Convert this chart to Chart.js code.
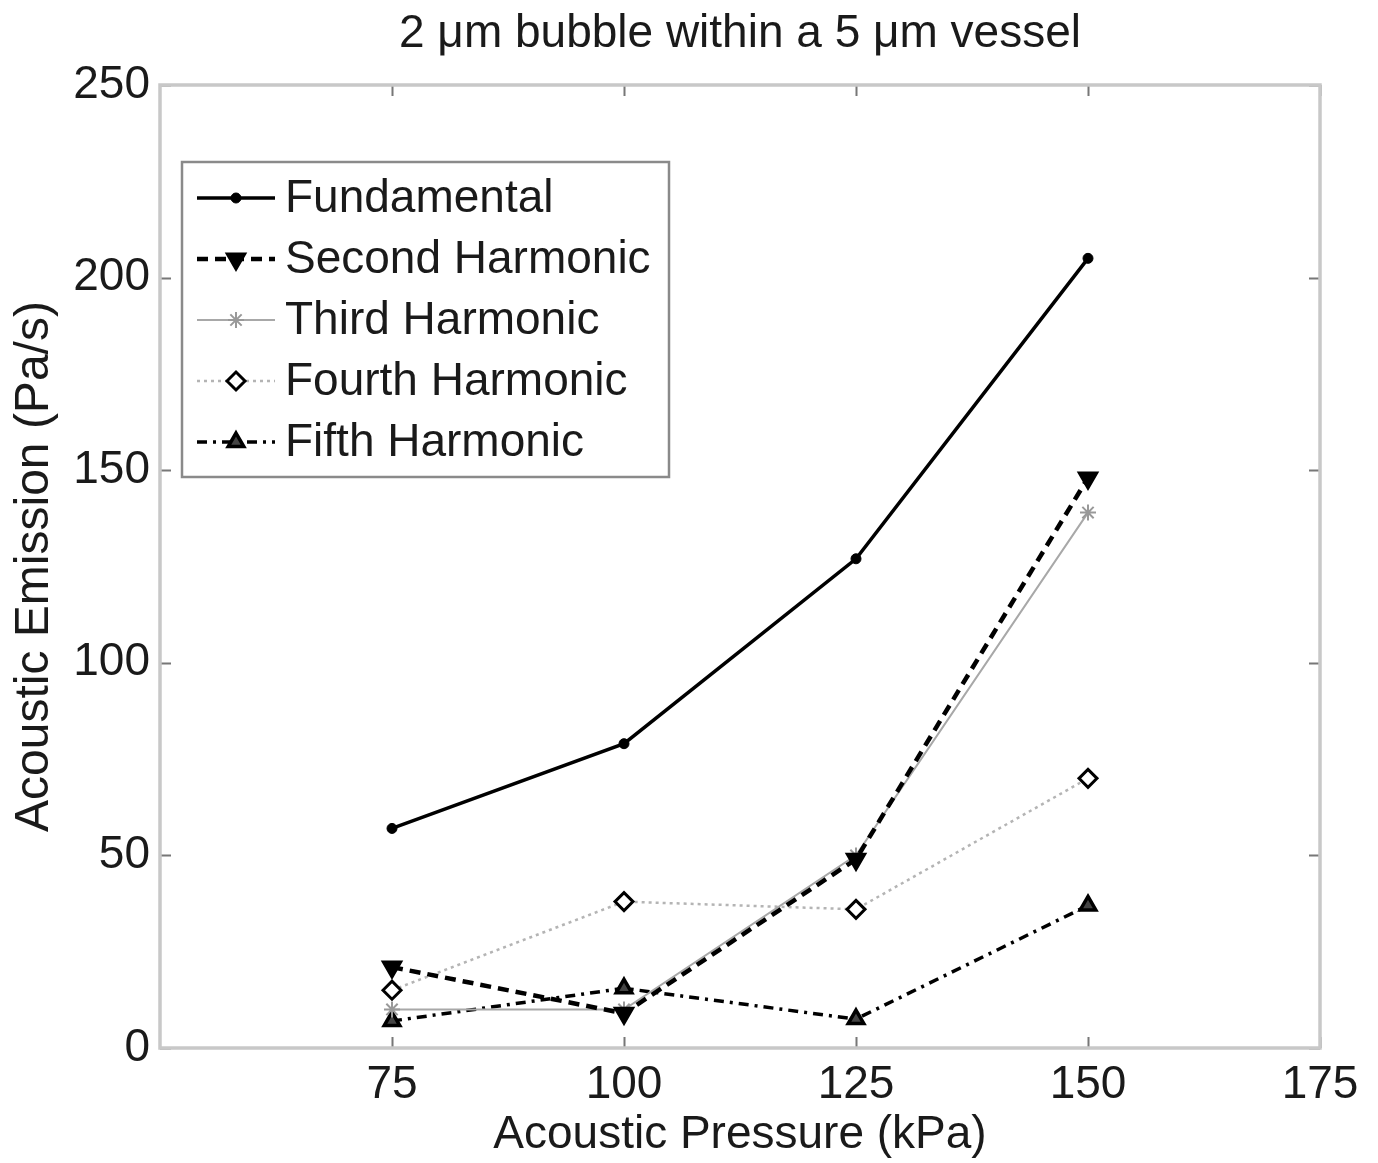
<!DOCTYPE html>
<html><head><meta charset="utf-8">
<script src="https://cdn.jsdelivr.net/npm/chart.js@4.4.1/dist/chart.umd.min.js"></script>
<style>html,body{margin:0;padding:0;background:#fff}#wrap{width:1378px;height:1163px}</style>
</head><body><div id="wrap"><canvas id="c" width="1378" height="1163"></canvas></div>
<script>
const pressures = [75, 100, 125, 150];
const fundamental = [57, 79, 127, 205];
const secondHarmonic = [21, 9, 49, 148];
const thirdHarmonic = [10, 10, 50, 139];
const fourthHarmonic = [15, 38, 36, 70];
const fifthHarmonic = [7, 15.5, 7.5, 37];
const xTicks = [75, 100, 125, 150, 175];
const yTicks = [0, 50, 100, 150, 200, 250];
const seriesNames = ['Fundamental', 'Second Harmonic', 'Third Harmonic', 'Fourth Harmonic', 'Fifth Harmonic'];
const titleText = '2 \u03bcm bubble within a 5 \u03bcm vessel';
const xTitle = 'Acoustic Pressure (kPa)';
const yTitle = 'Acoustic Emission (Pa/s)';

const FONT = "'Liberation Sans', Arial, sans-serif";
const TXT = '#1a1a1a';
const pts = arr => pressures.map((p, i) => ({x: p, y: arr[i]}));

const datasets = [
  {label: seriesNames[0], data: pts(fundamental), borderColor: '#000', backgroundColor: '#000',
   borderWidth: 3.5, borderDash: [], pointStyle: 'circle', pointRadius: 5, pointBorderWidth: 1,
   pointBackgroundColor: '#000', pointBorderColor: '#000', order: 1},
  {label: seriesNames[1], data: pts(secondHarmonic), borderColor: '#000', backgroundColor: '#000',
   borderWidth: 4.5, borderDash: [11, 7], pointStyle: 'triangle', pointRotation: 180, pointRadius: 11,
   pointBorderWidth: 2, pointBackgroundColor: '#000', pointBorderColor: '#000', order: 2},
  {label: seriesNames[2], data: pts(thirdHarmonic), borderColor: '#a8a8a8', backgroundColor: '#a8a8a8',
   borderWidth: 2, borderDash: [], pointStyle: 'star', pointRadius: 8, pointBorderWidth: 2,
   pointBackgroundColor: '#a8a8a8', pointBorderColor: '#999', order: 3},
  {label: seriesNames[3], data: pts(fourthHarmonic), borderColor: '#b4b4b4', backgroundColor: '#fff',
   borderWidth: 2.5, borderDash: [3, 4], pointStyle: 'rectRot', pointRadius: 9, pointBorderWidth: 3,
   pointBackgroundColor: '#fff', pointBorderColor: '#000', order: 4},
  {label: seriesNames[4], data: pts(fifthHarmonic), borderColor: '#000', backgroundColor: '#fff',
   borderWidth: 3.5, borderDash: [10, 6, 3, 6], pointStyle: 'triangle', pointRadius: 9, pointBorderWidth: 3.5,
   pointBackgroundColor: '#444', pointBorderColor: '#000', order: 5}
];

function drawMarker(ctx, ds, x, y) {
  ctx.save();
  ctx.setLineDash([]);
  ctx.fillStyle = ds.pointBackgroundColor;
  ctx.strokeStyle = ds.pointBorderColor;
  ctx.lineWidth = ds.pointBorderWidth;
  Chart.helpers.drawPoint(ctx, {pointStyle: ds.pointStyle, radius: ds.pointRadius,
    rotation: ds.pointRotation || 0, borderWidth: ds.pointBorderWidth}, x, y);
  ctx.restore();
}

const framePlugin = {
  id: 'frame',
  beforeDatasetsDraw(chart) {
    const {ctx, chartArea: a, scales} = chart;
    ctx.save();
    ctx.strokeStyle = '#777';
    ctx.lineWidth = 2;
    ctx.beginPath();
    xTicks.forEach(v => {
      const px = Math.round(scales.x.getPixelForValue(v)) + 0.5;
      ctx.moveTo(px, a.top); ctx.lineTo(px, a.top + 11);
      ctx.moveTo(px, a.bottom); ctx.lineTo(px, a.bottom - 11);
    });
    yTicks.forEach(v => {
      const py = Math.round(scales.y.getPixelForValue(v)) + 0.5;
      ctx.moveTo(a.left, py); ctx.lineTo(a.left + 11, py);
      ctx.moveTo(a.right, py); ctx.lineTo(a.right - 11, py);
    });
    ctx.stroke();
    ctx.strokeStyle = '#c8c8c8';
    ctx.lineWidth = 3.5;
    ctx.strokeRect(a.left, a.top, a.right - a.left, a.bottom - a.top);
    // title centred over the plot area
    ctx.fillStyle = TXT;
    ctx.font = '46px ' + FONT;
    ctx.textAlign = 'center';
    ctx.textBaseline = 'middle';
    ctx.fillText(titleText, (a.left + a.right) / 2, 34);
    ctx.restore();
  }
};

const legendPlugin = {
  id: 'customLegend',
  afterDraw(chart) {
    const ctx = chart.ctx;
    const bx = 182, by = 162, bw = 487, bh = 315;
    ctx.save();
    ctx.fillStyle = '#fff';
    ctx.fillRect(bx, by, bw, bh);
    ctx.strokeStyle = '#8a8a8a';
    ctx.lineWidth = 2.5;
    ctx.strokeRect(bx, by, bw, bh);
    ctx.font = '46px ' + FONT;
    ctx.textBaseline = 'middle';
    ctx.textAlign = 'left';
    chart.data.datasets.forEach((ds, i) => {
      const y = 198 + i * 61;
      ctx.save();
      ctx.strokeStyle = ds.borderColor;
      ctx.lineWidth = ds.borderWidth;
      ctx.setLineDash(ds.borderDash || []);
      ctx.beginPath();
      ctx.moveTo(197, y); ctx.lineTo(275, y);
      ctx.stroke();
      ctx.restore();
      drawMarker(ctx, ds, 236, y);
      ctx.fillStyle = TXT;
      ctx.fillText(ds.label, 285, y + 1);
    });
    ctx.restore();
  }
};

new Chart(document.getElementById('c'), {
  type: 'line',
  data: {datasets},
  plugins: [framePlugin, legendPlugin],
  options: {
    responsive: false,
    animation: false,
    devicePixelRatio: 1,
    layout: {padding: {left: 0, right: 58, top: 85, bottom: 0}},
    elements: {line: {tension: 0}},
    plugins: {
      legend: {display: false},
      tooltip: {enabled: false},
      title: {display: false}
    },
    scales: {
      x: {
        type: 'linear', min: 50, max: 175,
        afterBuildTicks: s => { s.ticks = xTicks.map(v => ({value: v})); },
        afterFit: s => { s.height = 115; },
        grid: {display: false, drawTicks: false},
        border: {display: false},
        ticks: {color: TXT, font: {family: FONT, size: 46}, padding: 10, maxRotation: 0},
        title: {display: true, text: xTitle, color: TXT, font: {family: FONT, size: 46}, padding: {top: 0, bottom: 0}}
      },
      y: {
        type: 'linear', min: 0, max: 250,
        afterBuildTicks: s => { s.ticks = yTicks.map(v => ({value: v})); },
        afterFit: s => { s.width = 160; },
        grid: {display: false, drawTicks: false},
        border: {display: false},
        ticks: {color: TXT, font: {family: FONT, size: 46}, padding: 10},
        title: {display: true, text: yTitle, color: TXT, font: {family: FONT, size: 48}, padding: {top: 6, bottom: 0}}
      }
    }
  }
});
</script></body></html>
